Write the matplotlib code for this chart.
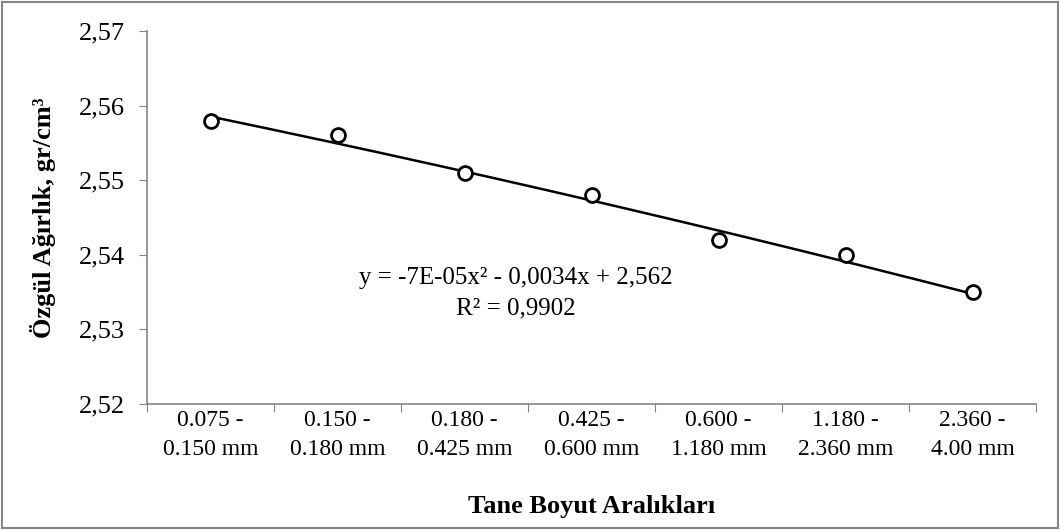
import numpy as np
import matplotlib
matplotlib.use("Agg")
import matplotlib.pyplot as plt
from matplotlib.patches import Rectangle

# -----------------------------
# data
# -----------------------------
categories = ["0.075 -\n0.150 mm", "0.150 -\n0.180 mm", "0.180 -\n0.425 mm",
              "0.425 -\n0.600 mm", "0.600 -\n1.180 mm", "1.180 -\n2.360 mm",
              "2.360 -\n4.00 mm"]
values = [2.558, 2.556, 2.551, 2.548, 2.542, 2.540, 2.535]
y_ticks = [2.52, 2.53, 2.54, 2.55, 2.56, 2.57]
y_tick_labels = ["2,52", "2,53", "2,54", "2,55", "2,56", "2,57"]
trend_coef = [-7e-05, -0.0034, 2.562]
eq_text = "y = -7E-05x\u00b2 - 0,0034x + 2,562\nR\u00b2 = 0,9902"

plt.rcParams["font.family"] = ["Liberation Serif", "DejaVu Serif"]
axis_gray = "#868686"

fig = plt.figure(figsize=(10.6, 5.3), dpi=100)
ax = fig.add_axes([0.1387, 0.2377, 0.8387, 0.7038])

x = np.arange(1, len(values) + 1)

# polynomial trendline (order 2), drawn across the category range
xs = np.linspace(1, len(values), 200)
ax.plot(xs, np.polyval(trend_coef, xs), color="black", lw=1.8, zorder=2)
ax.plot(x, values, "o", ms=10, mfc="white", mec="black", mew=2, zorder=3)

ax.text(3.40, 2.5348, eq_text, ha="center", va="center",
        fontsize=18, linespacing=1.5)

ax.set_xlim(0.5, len(values) + 0.5)
ax.set_ylim(y_ticks[0], y_ticks[-1])
ax.set_yticks(y_ticks)
ax.set_yticklabels(y_tick_labels, fontsize=19)

# tick marks sit between categories, labels at the category centres
ax.set_xticks(np.arange(0.5, len(values) + 1, 1.0))
ax.set_xticklabels([])
ax.set_xticks(x, minor=True)
ax.set_xticklabels(categories, minor=True, fontsize=17, linespacing=1.5)
ax.tick_params(axis="x", which="minor", length=0, pad=4)
ax.tick_params(axis="x", which="major", length=6, color=axis_gray, direction="out")
ax.tick_params(axis="y", length=6, color=axis_gray, pad=10)

for side in ["top", "right"]:
    ax.spines[side].set_visible(False)
for side in ["left", "bottom"]:
    ax.spines[side].set_color(axis_gray)
    ax.spines[side].set_linewidth(1.2)

ax.set_ylabel("Özgül Ağırlık, gr/cm\u00b3", fontsize=19, fontweight="bold", labelpad=16)
fig.text(0.558, 0.045, "Tane Boyut Aralıkları", ha="center", va="center",
         fontsize=19, fontweight="bold")

# outer chart border
fig.patches.append(Rectangle((0.002, 0.003), 0.996, 0.994, transform=fig.transFigure,
                             fill=False, edgecolor=axis_gray, lw=1.5))

fig.savefig("out.png", dpi=100)
